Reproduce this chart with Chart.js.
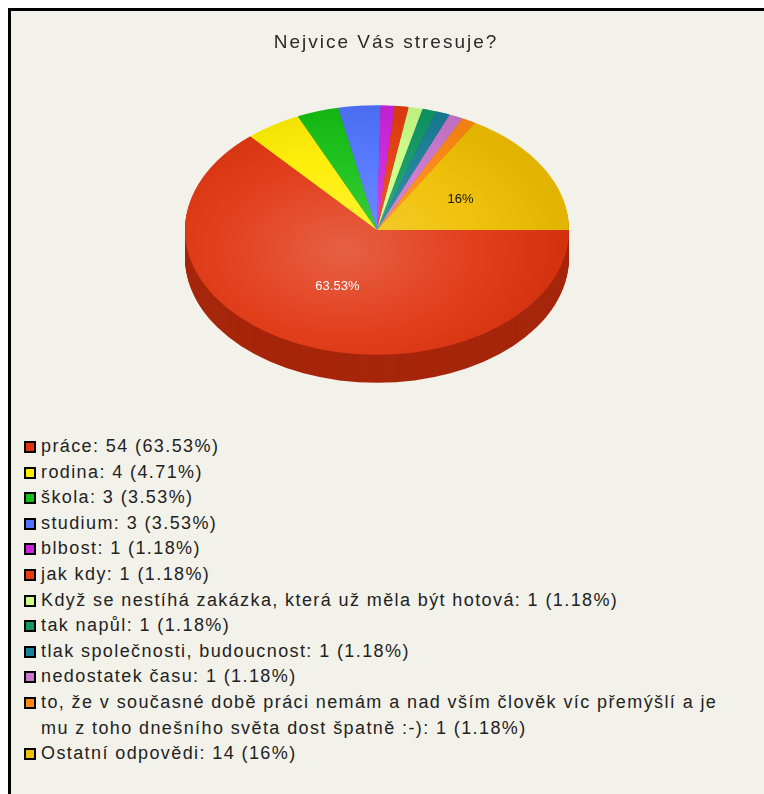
<!DOCTYPE html>
<html>
<head>
<meta charset="utf-8">
<script src="https://cdn.jsdelivr.net/npm/chart.js@4"></script>
<style>
  body { margin: 0; background: #fff; width: 764px; height: 794px; overflow: hidden; position: relative; }
  #frame { position: absolute; left: 8px; top: 8px; width: 800px; height: 800px;
           border-top: 3px solid #000; border-left: 3px solid #000; background: #f3f2ea; }
  #chartBox { position: absolute; left: 0; top: 0; width: 764px; height: 420px; }
  #legend { position: absolute; left: 24px; top: 434px; width: 712px;
            font-family: "Liberation Sans", Arial, sans-serif; font-size: 18px; color: #222;
            letter-spacing: 1.4px; line-height: 25.6px; }
  .item { display: flex; align-items: flex-start; }
  .sw { flex: none; width: 12px; height: 12px; border: 2px solid #000; box-sizing: border-box;
        margin-top: 7px; margin-right: 5px; }
</style>
</head>
<body>
<div id="frame"></div>
<div id="chartBox"><canvas id="pieChart"></canvas></div>
<div id="legend"></div>
<script>
// Kategorie a hodnoty
const kategorie = [
    'práce', 'rodina', 'škola', 'studium', 'blbost', 'jak kdy',
    'Když se nestíhá zakázka, která už měla být hotová',
    'tak napůl', 'tlak společnosti, budoucnost', 'nedostatek času',
    'to, že v současné době práci nemám a nad vším člověk víc přemýšlí a je mu z toho dnešního světa dost špatně :-)',
    'Ostatní odpovědi'
];
const pocty = [54, 4, 3, 3, 1, 1, 1, 1, 1, 1, 1, 14];
const procenta = ['63.53%', '4.71%', '3.53%', '3.53%', '1.18%', '1.18%', '1.18%', '1.18%', '1.18%', '1.18%', '1.18%', '16%'];
const barvy = ['#e0340f', '#ffee00', '#14c014', '#4f74ff', '#cc22dd', '#e63c10',
               '#ccff88', '#119966', '#1a7f99', '#cc77cc', '#ff8811', '#f0bf00'];

// Legenda v HTML
const legend = document.getElementById('legend');
kategorie.forEach((k, i) => {
    const row = document.createElement('div');
    row.className = 'item';
    const sw = document.createElement('span');
    sw.className = 'sw';
    sw.style.background = barvy[i];
    const txt = document.createElement('span');
    txt.textContent = `${k}: ${pocty[i]} (${procenta[i]})`;
    row.appendChild(sw);
    row.appendChild(txt);
    legend.appendChild(row);
});

function ztmavit(hex, f) {
    const n = parseInt(hex.slice(1), 16);
    const r = Math.round(((n >> 16) & 255) * f);
    const g = Math.round(((n >> 8) & 255) * f);
    const b = Math.round((n & 255) * f);
    return `rgb(${r},${g},${b})`;
}

// Plugin pro "3D" sklopený koláč
const naklon = {
    id: 'naklon',
    beforeDraw(chart) {
        chart.ctx.letterSpacing = '2px';
    },
    beforeDatasetsDraw(chart, args, opts) {
        const ctx = chart.ctx;
        const arcs = chart.getDatasetMeta(0).data;
        const cx = arcs[0].x, cy = arcs[0].y;
        ctx.letterSpacing = '0px';

        // boční stěna
        for (let d = opts.hloubka; d >= 1; d--) {
            ctx.save();
            ctx.translate(opts.stredX, opts.stredY + d);
            ctx.scale(1, opts.pomer);
            ctx.translate(-cx, -cy);
            arcs.forEach((a, i) => {
                ctx.beginPath();
                ctx.moveTo(cx, cy);
                ctx.arc(cx, cy, a.outerRadius, a.startAngle, a.endAngle);
                ctx.closePath();
                ctx.fillStyle = ztmavit(barvy[i], 0.74);
                ctx.fill();
            });
            ctx.restore();
        }

        ctx.save();
        ctx.translate(opts.stredX, opts.stredY);
        ctx.scale(1, opts.pomer);
        ctx.translate(-cx, -cy);
    },
    afterDatasetsDraw(chart, args, opts) {
        const ctx = chart.ctx;
        const arcs = chart.getDatasetMeta(0).data;
        const cx = arcs[0].x, cy = arcs[0].y;
        const r = arcs[0].outerRadius;

        // světlo
        const g = ctx.createRadialGradient(cx - r * 0.17, cy + r * 0.16, 0, cx - r * 0.17, cy + r * 0.16, r * 1.15);
        g.addColorStop(0, 'rgba(255,255,255,0.22)');
        g.addColorStop(0.6, 'rgba(255,255,255,0.05)');
        g.addColorStop(1, 'rgba(0,0,0,0.06)');
        ctx.beginPath();
        ctx.arc(cx, cy, r, 0, Math.PI * 2);
        ctx.fillStyle = g;
        ctx.fill();
        ctx.restore();

        // popisky
        const celkem = pocty.reduce((s, v) => s + v, 0);
        ctx.save();
        ctx.font = '13px "Liberation Sans", Arial, sans-serif';
        ctx.textAlign = 'center';
        ctx.textBaseline = 'middle';
        arcs.forEach((a, i) => {
            if (pocty[i] / celkem < 0.1) return;
            const p = a.tooltipPosition();
            const x = opts.stredX + (p.x - cx);
            const y = opts.stredY + (p.y - cy) * opts.pomer;
            ctx.fillStyle = i === 0 ? '#fff' : '#111';
            ctx.fillText(procenta[i], x, y);
        });
        ctx.restore();
    }
};

new Chart(document.getElementById('pieChart'), {
    type: 'pie',
    data: {
        labels: kategorie,
        datasets: [{
            data: pocty,
            backgroundColor: barvy,
            borderWidth: 0,
            clip: false
        }]
    },
    options: {
        responsive: true,
        maintainAspectRatio: false,
        animation: false,
        rotation: 90,
        radius: 192,
        layout: { padding: { left: 8 } },
        plugins: {
            legend: { display: false },
            tooltip: { enabled: false },
            title: {
                display: true,
                text: 'Nejvice Vás stresuje?',
                color: '#2a2a2a',
                font: { family: '"Liberation Sans", Arial, sans-serif', size: 19, weight: 'normal' },
                padding: { top: 31, bottom: 10 }
            },
            naklon: { stredX: 377, stredY: 230, pomer: 0.65, hloubka: 28 }
        }
    },
    plugins: [naklon]
});
</script>
</body>
</html>
